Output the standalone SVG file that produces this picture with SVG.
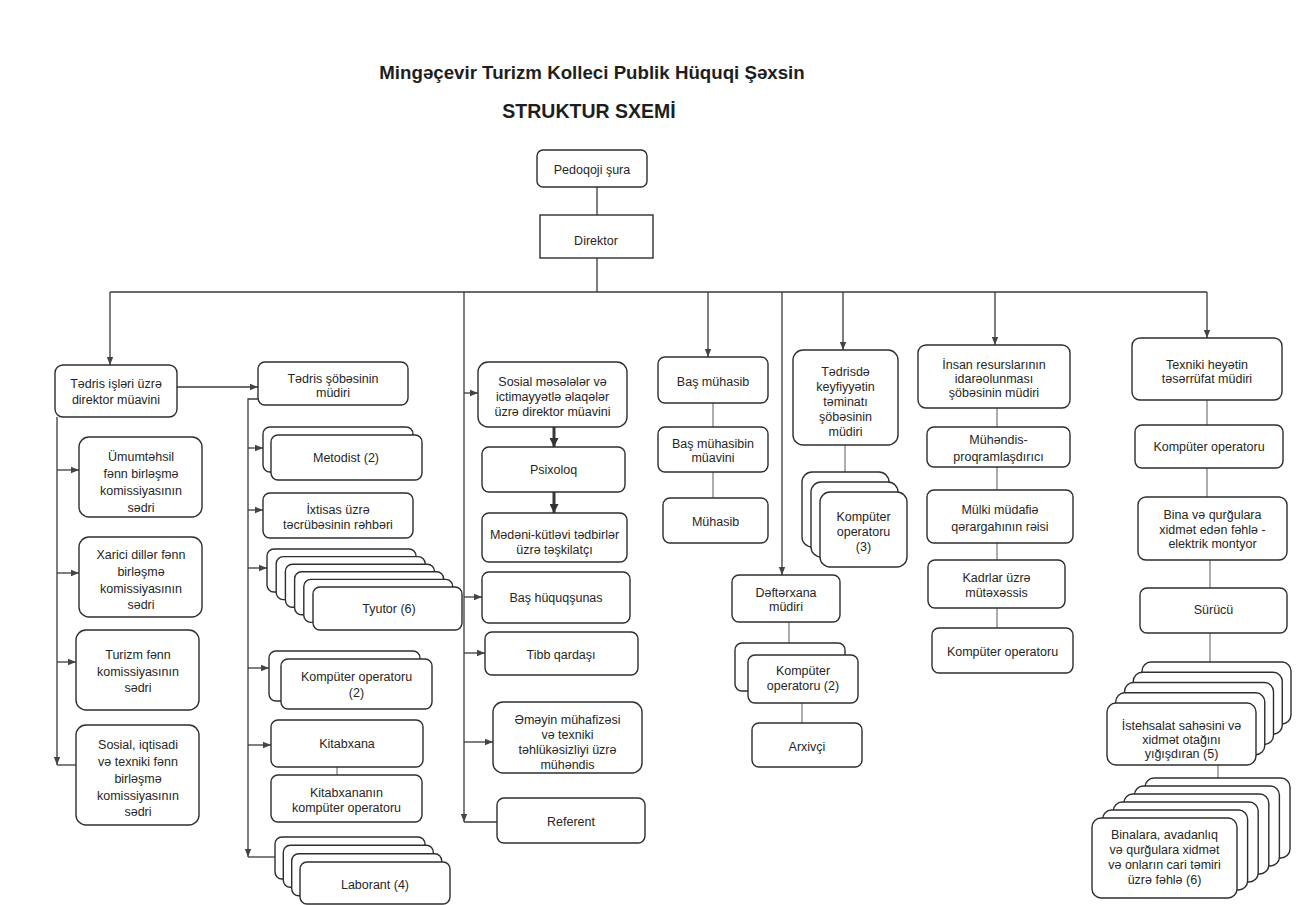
<svg xmlns="http://www.w3.org/2000/svg" width="1307" height="905" viewBox="0 0 1307 905">
<defs>
<style>
.b{fill:#fff;stroke:#2e2e2e;stroke-width:1.4}
.t{font-family:"Liberation Sans",Arial,sans-serif;font-size:12.5px;fill:#262626;text-anchor:middle}
.h{font-family:"Liberation Sans",Arial,sans-serif;font-weight:bold;fill:#1e1e1e;text-anchor:middle}
.c{fill:none;stroke:#3a3a3a;stroke-width:1.3}
.l{fill:none;stroke:#6a6a6a;stroke-width:1.1}
.k{fill:none;stroke:#3a3a3a;stroke-width:3}
</style>
<marker id="arr" viewBox="0 0 10 10" refX="10" refY="5" markerWidth="8" markerHeight="8" markerUnits="userSpaceOnUse" orient="auto"><path d="M0,1 L10,5 L0,9 z" fill="#444"/></marker>
<marker id="arrK" viewBox="0 0 10 10" refX="10" refY="5" markerWidth="9" markerHeight="9" markerUnits="userSpaceOnUse" orient="auto"><path d="M0,0 L10,5 L0,10 z" fill="#333"/></marker>
</defs>
<rect width="1307" height="905" fill="#fff"/>
<text class="h" x="592" y="79" font-size="18.7">Mingəçevir Turizm Kolleci Publik Hüquqi Şəxsin</text>
<text class="h" x="589" y="118" font-size="19.5">STRUKTUR SXEMİ</text>

<g id="connectors">
<path class="c" d="M597,187 V215 M597,258 V292 M110,292 H1207"/>
<path class="c" d="M110,292 V365" marker-end="url(#arr)"/>
<path class="c" d="M708,292 V357" marker-end="url(#arr)"/>
<path class="c" d="M843,292 V350" marker-end="url(#arr)"/>
<path class="c" d="M995,292 V345" marker-end="url(#arr)"/>
<path class="c" d="M1207,292 V338" marker-end="url(#arr)"/>
<path class="c" d="M464,292 V822" marker-end="url(#arr)"/>
<path class="c" d="M464,822 H497"/>
<path class="c" d="M782,292 V575" marker-end="url(#arr)"/>
<path class="c" d="M177,387 H258" marker-end="url(#arr)"/>
<path class="c" d="M57,417 V765" marker-end="url(#arr)"/>
<path class="c" d="M57,765 H76"/>
<path class="c" d="M57,470 H79" marker-end="url(#arr)"/>
<path class="c" d="M57,573 H79" marker-end="url(#arr)"/>
<path class="c" d="M57,662 H76" marker-end="url(#arr)"/>
<path class="c" d="M258,399 H248 V857" marker-end="url(#arr)"/>
<path class="c" d="M248,857 H275"/>
<path class="c" d="M248,448 H263" marker-end="url(#arr)"/>
<path class="c" d="M248,510 H263" marker-end="url(#arr)"/>
<path class="c" d="M248,568 H267" marker-end="url(#arr)"/>
<path class="c" d="M248,668 H269" marker-end="url(#arr)"/>
<path class="c" d="M248,745 H271" marker-end="url(#arr)"/>
<path class="c" d="M464,393 H478" marker-end="url(#arr)"/>
<path class="c" d="M464,597 H482" marker-end="url(#arr)"/>
<path class="c" d="M464,653 H485" marker-end="url(#arr)"/>
<path class="c" d="M464,742 H493" marker-end="url(#arr)"/>
<path class="k" d="M554,427 V447" marker-end="url(#arrK)"/>
<path class="k" d="M554,492 V513" marker-end="url(#arrK)"/>
<path class="l" d="M713,403 V427 M713,472 V498"/>
<path class="l" d="M845,445 V472"/>
<path class="l" d="M789,622 V643 M802,703 V723"/>
<path class="l" d="M337,767 V775"/>
<path class="l" d="M997,408 V427 M997,467 V490 M997,543 V560 M997,608 V628"/>
<path class="l" d="M1207,400 V425 M1207,468 V497 M1210,560 V588 M1210,633 V662 M1218,765 V778"/>
</g>

<g id="pedoqoji"><rect class="b" x="537" y="150" width="110" height="37" rx="6"/><text class="t" x="592" y="174" font-size="14">Pedoqoji şura</text></g>
<g id="direktor"><rect class="b" x="540" y="215" width="113" height="43"/><text class="t" x="596" y="245" font-size="14.5">Direktor</text></g>

<g id="tedris_isleri"><rect class="b" x="55" y="365" width="122" height="52" rx="8"/><text class="t" x="116" y="388">Tədris işləri üzrə</text><text class="t" x="116" y="404">direktor müavini</text></g>
<g id="umumtehsil"><rect class="b" x="79" y="437" width="123" height="80" rx="10"/><text class="t" x="141" y="461">Ümumtəhsil</text><text class="t" x="141" y="478">fənn birləşmə</text><text class="t" x="141" y="495">komissiyasının</text><text class="t" x="141" y="512">sədri</text></g>
<g id="xarici"><rect class="b" x="79" y="537" width="123" height="80" rx="10"/><text class="t" x="141" y="559">Xarici dillər fənn</text><text class="t" x="141" y="576">birləşmə</text><text class="t" x="141" y="593">komissiyasının</text><text class="t" x="141" y="609">sədri</text></g>
<g id="turizm"><rect class="b" x="76" y="630" width="123" height="80" rx="10"/><text class="t" x="138" y="659">Turizm fənn</text><text class="t" x="138" y="676">komissiyasının</text><text class="t" x="138" y="692">sədri</text></g>
<g id="sosial_iqtisadi"><rect class="b" x="76" y="725" width="123" height="100" rx="10"/><text class="t" x="138" y="749">Sosial, iqtisadi</text><text class="t" x="138" y="766">və texniki fənn</text><text class="t" x="138" y="783">birləşmə</text><text class="t" x="138" y="800">komissiyasının</text><text class="t" x="138" y="816">sədri</text></g>

<g id="tedris_sobe"><rect class="b" x="258" y="362" width="150" height="43" rx="7"/><text class="t" x="333" y="383">Tədris şöbəsinin</text><text class="t" x="333" y="397">müdiri</text></g>
<g id="metodist"><rect class="b" x="263" y="427" width="150" height="45" rx="7"/><rect class="b" x="271" y="435" width="151" height="45" rx="7"/><text class="t" x="346" y="462">Metodist (2)</text></g>
<g id="ixtisas"><rect class="b" x="263" y="493" width="150" height="45" rx="7"/><text class="t" x="338" y="514">İxtisas üzrə</text><text class="t" x="338" y="529">təcrübəsinin rəhbəri</text></g>
<g id="tyutor"><rect class="b" x="267" y="549" width="149" height="43" rx="7"/><rect class="b" x="276.2" y="556.6" width="149" height="43" rx="7"/><rect class="b" x="285.4" y="564.2" width="149" height="43" rx="7"/><rect class="b" x="294.6" y="571.8" width="149" height="43" rx="7"/><rect class="b" x="303.8" y="579.4" width="149" height="43" rx="7"/><rect class="b" x="313" y="587" width="149" height="43" rx="7"/><text class="t" x="389" y="613">Tyutor (6)</text></g>
<g id="komputer_2"><rect class="b" x="269" y="651" width="151" height="50" rx="7"/><rect class="b" x="281" y="659" width="151" height="50" rx="7"/><text class="t" x="356.5" y="681">Kompüter operatoru</text><text class="t" x="356.5" y="697">(2)</text></g>
<g id="kitabxana"><rect class="b" x="271" y="720" width="152" height="47" rx="7"/><text class="t" x="347" y="748">Kitabxana</text></g>
<g id="kitabxana_operator"><rect class="b" x="271" y="775" width="151" height="47" rx="7"/><text class="t" x="346.5" y="797">Kitabxananın</text><text class="t" x="346.5" y="812">kompüter operatoru</text></g>
<g id="laborant"><rect class="b" x="275" y="837" width="150" height="42" rx="7"/><rect class="b" x="283.3" y="845.3" width="150" height="42" rx="7"/><rect class="b" x="291.7" y="853.7" width="150" height="42" rx="7"/><rect class="b" x="300" y="862" width="150" height="42" rx="7"/><text class="t" x="375" y="889">Laborant (4)</text></g>

<g id="sosial_meseleler"><rect class="b" x="478" y="362" width="149" height="65" rx="10"/><text class="t" x="552.5" y="386">Sosial məsələlər və</text><text class="t" x="552.5" y="401">ictimayyətlə əlaqələr</text><text class="t" x="552.5" y="416">üzrə direktor müavini</text></g>
<g id="psixoloq"><rect class="b" x="482" y="447" width="143" height="45" rx="7"/><text class="t" x="553.5" y="474">Psixoloq</text></g>
<g id="medeni"><rect class="b" x="482" y="513" width="145" height="49" rx="7"/><text class="t" x="554.5" y="539">Mədəni-kütləvi tədbirlər</text><text class="t" x="554.5" y="554">üzrə təşkilatçı</text></g>
<g id="bas_huquqsunas"><rect class="b" x="482" y="572" width="148" height="51" rx="7"/><text class="t" x="556" y="602">Baş hüquqşunas</text></g>
<g id="tibb"><rect class="b" x="485" y="632" width="153" height="43" rx="7"/><text class="t" x="561" y="659">Tibb qardaşı</text></g>
<g id="emeyin"><rect class="b" x="493" y="702" width="149" height="71" rx="10"/><text class="t" x="567.5" y="724">Əməyin mühafizəsi</text><text class="t" x="567.5" y="739">və texniki</text><text class="t" x="567.5" y="754">təhlükəsizliyi üzrə</text><text class="t" x="567.5" y="769">mühəndis</text></g>
<g id="referent"><rect class="b" x="497" y="798" width="148" height="45" rx="7"/><text class="t" x="571" y="826">Referent</text></g>

<g id="bas_muhasib"><rect class="b" x="658" y="357" width="110" height="46" rx="7"/><text class="t" x="713" y="386">Baş mühasib</text></g>
<g id="bas_muhasib_muavini"><rect class="b" x="658" y="427" width="110" height="45" rx="7"/><text class="t" x="713" y="448">Baş mühasibin</text><text class="t" x="713" y="462">müavini</text></g>
<g id="muhasib"><rect class="b" x="663" y="498" width="105" height="45" rx="7"/><text class="t" x="715.5" y="526">Mühasib</text></g>

<g id="tedrisde_keyfiyyet"><rect class="b" x="793" y="350" width="105" height="95" rx="10"/><text class="t" x="845.5" y="376">Tədrisdə</text><text class="t" x="845.5" y="391">keyfiyyətin</text><text class="t" x="845.5" y="406">təminatı</text><text class="t" x="845.5" y="421">şöbəsinin</text><text class="t" x="845.5" y="436">müdiri</text></g>
<g id="komputer_3"><rect class="b" x="802" y="472" width="87" height="75" rx="10"/><rect class="b" x="811" y="482" width="87" height="75" rx="10"/><rect class="b" x="820" y="492" width="87" height="75" rx="10"/><text class="t" x="863.5" y="521">Kompüter</text><text class="t" x="863.5" y="536">operatoru</text><text class="t" x="863.5" y="551">(3)</text></g>

<g id="defterxana"><rect class="b" x="732" y="575" width="108" height="47" rx="7"/><text class="t" x="786" y="597">Dəftərxana</text><text class="t" x="786" y="611">müdiri</text></g>
<g id="komputer_2b"><rect class="b" x="735" y="643" width="110" height="48" rx="7"/><rect class="b" x="748" y="655" width="110" height="48" rx="7"/><text class="t" x="803" y="675">Kompüter</text><text class="t" x="803" y="690">operatoru (2)</text></g>
<g id="arxivci"><rect class="b" x="752" y="723" width="110" height="44" rx="7"/><text class="t" x="807" y="751">Arxivçi</text></g>

<g id="insan_resurslari"><rect class="b" x="918" y="345" width="152" height="63" rx="8"/><text class="t" x="994" y="369">İnsan resurslarının</text><text class="t" x="994" y="383">idarəolunması</text><text class="t" x="994" y="397">şöbəsinin müdiri</text></g>
<g id="muhendis"><rect class="b" x="927" y="427" width="143" height="40" rx="7"/><text class="t" x="998.5" y="444">Mühəndis-</text><text class="t" x="998.5" y="461">proqramlaşdırıcı</text></g>
<g id="mulki"><rect class="b" x="927" y="490" width="146" height="53" rx="7"/><text class="t" x="1000" y="514">Mülki müdafiə</text><text class="t" x="1000" y="531">qərargahının rəisi</text></g>
<g id="kadrlar"><rect class="b" x="928" y="560" width="137" height="48" rx="7"/><text class="t" x="996.5" y="582">Kadrlar üzrə</text><text class="t" x="996.5" y="597">mütəxəssis</text></g>
<g id="komputer_insan"><rect class="b" x="932" y="628" width="141" height="45" rx="7"/><text class="t" x="1002.5" y="656">Kompüter operatoru</text></g>

<g id="texniki"><rect class="b" x="1132" y="338" width="150" height="62" rx="8"/><text class="t" x="1207" y="369">Texniki heyətin</text><text class="t" x="1207" y="383">təsərrüfat müdiri</text></g>
<g id="komputer_texniki"><rect class="b" x="1135" y="425" width="148" height="43" rx="7"/><text class="t" x="1209" y="451">Kompüter operatoru</text></g>
<g id="bina"><rect class="b" x="1138" y="497" width="149" height="63" rx="8"/><text class="t" x="1212.5" y="519">Bina və qurğulara</text><text class="t" x="1212.5" y="534">xidmət edən fəhlə -</text><text class="t" x="1212.5" y="548">elektrik montyor</text></g>
<g id="surucu"><rect class="b" x="1140" y="588" width="147" height="45" rx="7"/><text class="t" x="1213.5" y="614">Sürücü</text></g>
<g id="istehsalat"><rect class="b" x="1142" y="662" width="149" height="62" rx="9"/><rect class="b" x="1133.25" y="672.25" width="149" height="62" rx="9"/><rect class="b" x="1124.5" y="682.5" width="149" height="62" rx="9"/><rect class="b" x="1115.75" y="692.75" width="149" height="62" rx="9"/><rect class="b" x="1107" y="703" width="149" height="62" rx="9"/><text class="t" x="1181.5" y="730">İstehsalat sahəsini və</text><text class="t" x="1181.5" y="744">xidmət otağını</text><text class="t" x="1181.5" y="758">yığışdıran (5)</text></g>
<g id="binalara"><rect class="b" x="1145" y="778" width="145" height="80" rx="9"/><rect class="b" x="1134.4" y="786" width="145" height="80" rx="9"/><rect class="b" x="1123.8" y="794" width="145" height="80" rx="9"/><rect class="b" x="1113.2" y="802" width="145" height="80" rx="9"/><rect class="b" x="1102.6" y="810" width="145" height="80" rx="9"/><rect class="b" x="1092" y="818" width="145" height="80" rx="9"/><text class="t" x="1164.5" y="839">Binalara, avadanlıq</text><text class="t" x="1164.5" y="854">və qurğulara xidmət</text><text class="t" x="1164.5" y="869">və onların cari təmiri</text><text class="t" x="1164.5" y="884">üzrə fəhlə (6)</text></g>
</svg>
